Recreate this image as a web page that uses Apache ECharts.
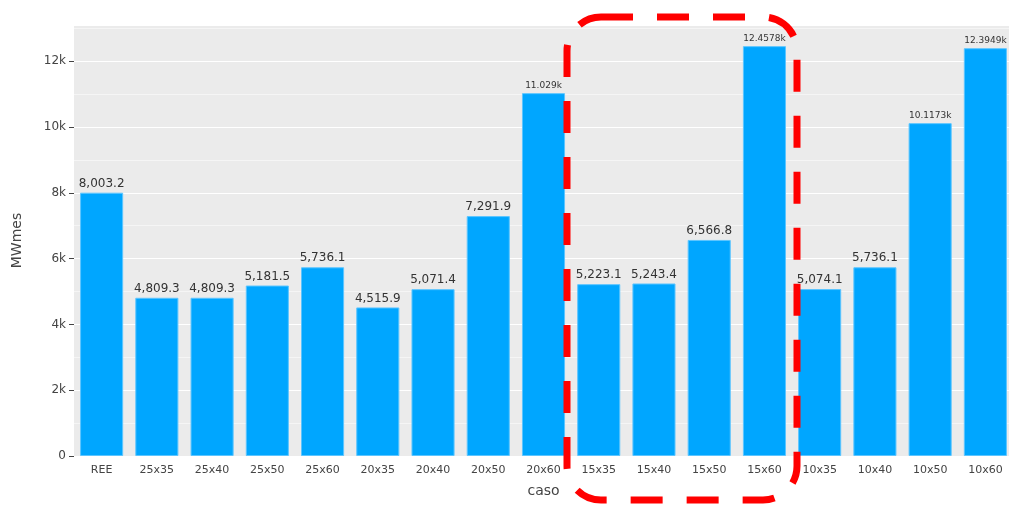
<!DOCTYPE html>
<html><head><meta charset="utf-8">
<script src="https://cdn.jsdelivr.net/npm/echarts@6/dist/echarts.min.js"></script>
<style>html,body{margin:0;padding:0;background:#fff}#c{width:1009px;height:507px}</style>
</head><body><div id="c"></div>
<script>
const categories = ['REE','25x35','25x40','25x50','25x60','20x35','20x40','20x50','20x60','15x35','15x40','15x50','15x60','10x35','10x40','10x50','10x60']
const values = [8003.2,4809.3,4809.3,5181.5,5736.1,4515.9,5071.4,7291.9,11029,5223.1,5243.4,6566.8,12457.8,5074.1,5736.1,10117.3,12394.9]
const yTicks = [0,2000,4000,6000,8000,10000,12000]

const chart = echarts.init(document.getElementById('c'))
const fmt = v => {
  if (v >= 10000) return '{s|' + parseFloat((v / 1000).toFixed(4)) + 'k}'
  return v.toLocaleString('en-US', { minimumFractionDigits: 1, maximumFractionDigits: 1 })
}
chart.setOption({
  backgroundColor: '#fff',
  grid: { left: 74, right: -4, top: 25, bottom: 51, show: true, backgroundColor: '#ebebeb', borderWidth: 0,
    containLabel: false, outerBoundsMode: 'none' },
  xAxis: {
    type: 'category', data: categories, name: 'caso', nameLocation: 'middle', nameGap: 28,
    nameTextStyle: { fontSize: 14, color: '#444', fontFamily: 'DejaVu Sans' },
    axisLine: { show: false }, axisTick: { show: false },
    axisLabel: { color: '#444', fontSize: 11, fontFamily: 'DejaVu Sans', margin: 9 },
    splitLine: { show: false }
  },
  yAxis: {
    type: 'value', min: 0, max: 13100, interval: 2000, name: 'MWmes', nameLocation: 'middle', nameGap: 50,
    nameTextStyle: { fontSize: 14, color: '#444', fontFamily: 'DejaVu Sans' },
    axisLine: { show: false },
    axisTick: { show: true, length: 5, lineStyle: { color: '#444' } },
    axisLabel: { color: '#444', fontSize: 12, fontFamily: 'DejaVu Sans', showMaxLabel: false,
      formatter: v => yTicks.includes(v) ? (v === 0 ? '0' : (v / 1000) + 'k') : '' },
    splitLine: { lineStyle: { color: '#fff', width: 1.2 } },
    minorTick: { show: false, splitNumber: 2 },
    minorSplitLine: { show: true, lineStyle: { color: '#f5f5f5', width: 1 } }
  },
  series: [{
    type: 'bar', data: values, barCategoryGap: '22%',
    itemStyle: { color: '#00a6ff', borderColor: '#5cc5ff', borderWidth: 1 },
    label: { show: true, position: 'top', distance: 3, color: '#333', fontSize: 12, fontFamily: 'DejaVu Sans',
      formatter: p => fmt(p.value), rich: { s: { fontSize: 9, color: '#333', fontFamily: 'DejaVu Sans' } } }
  }],
  graphic: [{
    type: 'rect', z: 100, silent: true,
    shape: { x: 567, y: 17, width: 230, height: 483, r: 34 },
    style: { fill: 'none', stroke: '#ff0000', lineWidth: 7, lineDash: [32, 24] }
  }]
})
</script></body></html>
